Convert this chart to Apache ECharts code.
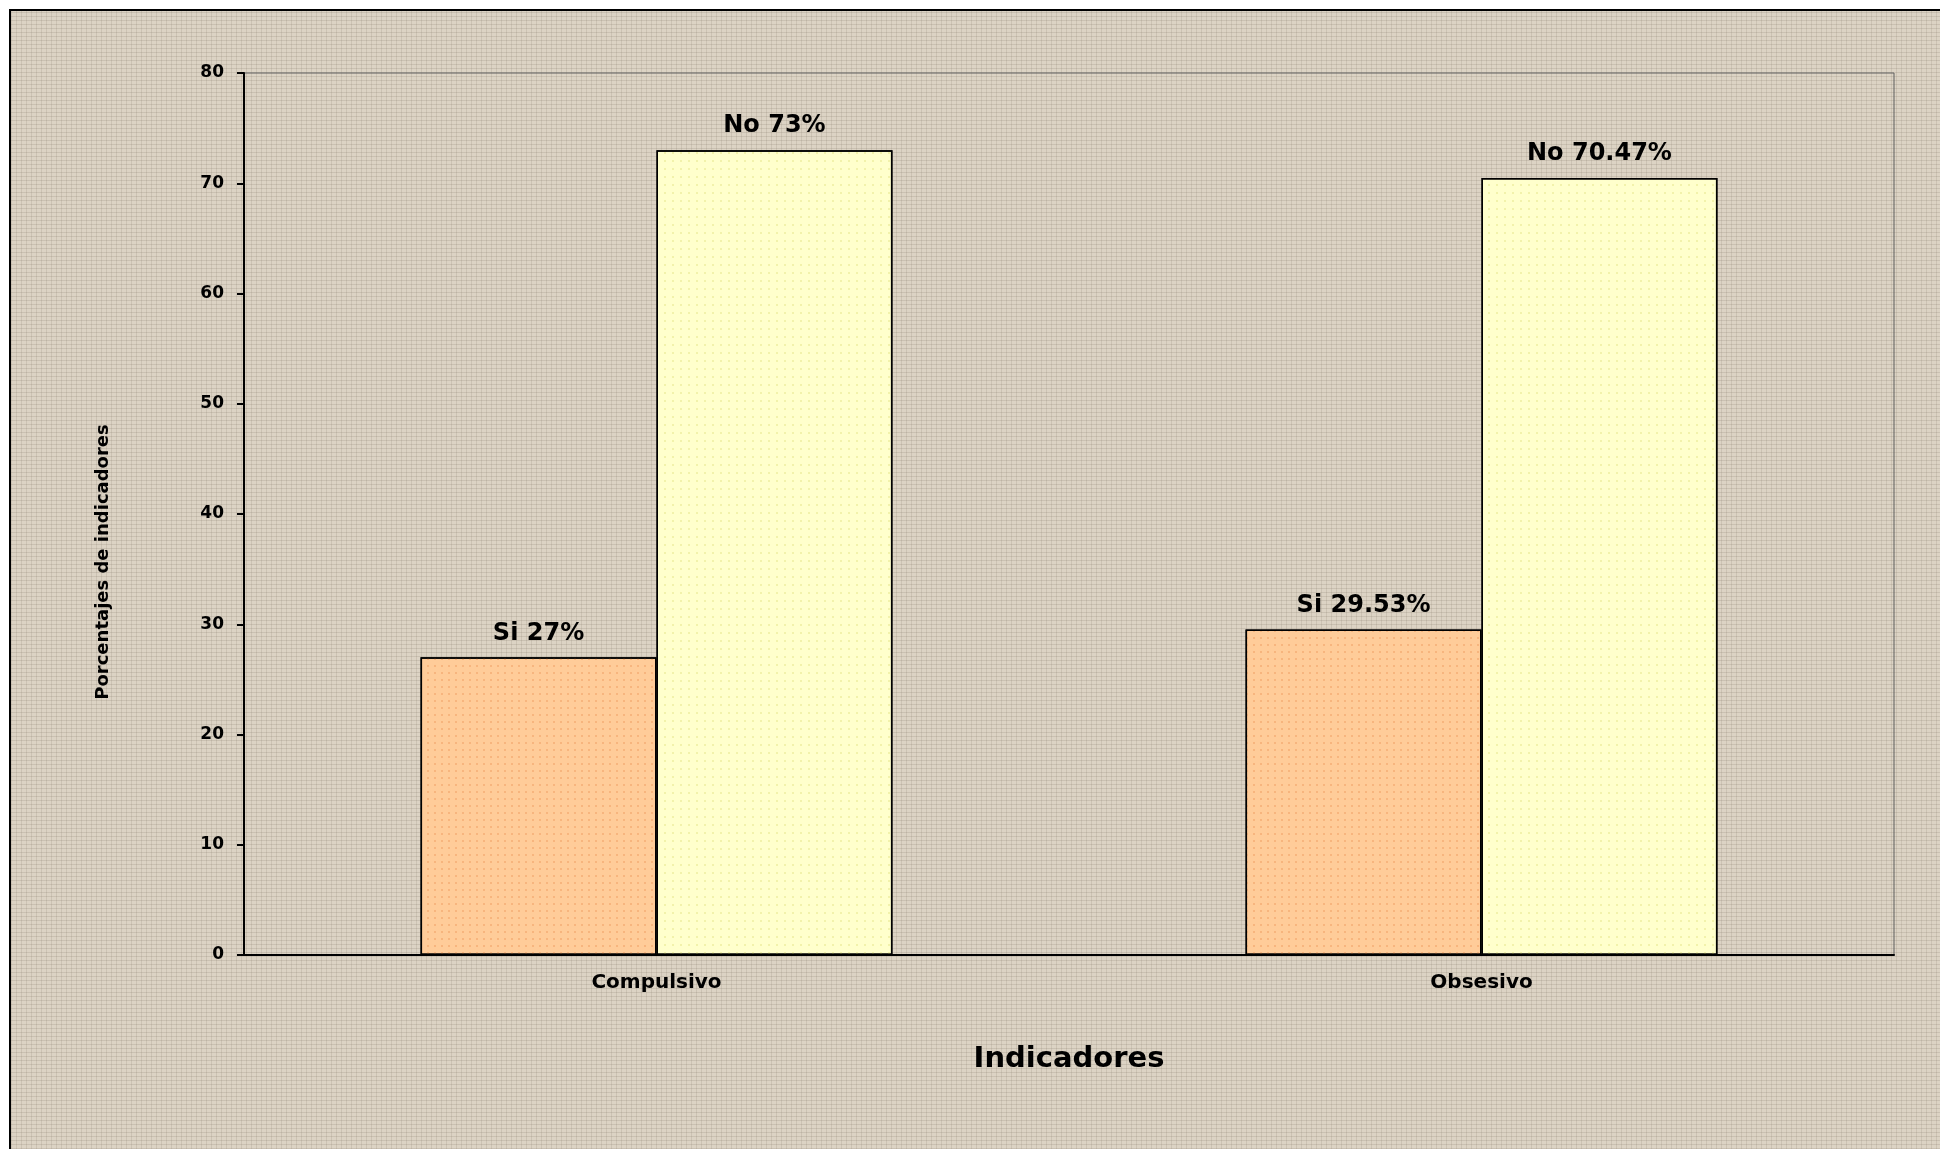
<!DOCTYPE html>
<html>
<head>
<meta charset="utf-8">
<title>Indicadores</title>
<script src="https://cdn.jsdelivr.net/npm/echarts@6/dist/echarts.min.js"></script>
<style>
  html, body {
    margin: 0;
    padding: 0;
    background: #ffffff;
    overflow: hidden;
  }
  /* marco negro y fondo tipo lino */
  .frame {
    position: absolute;
    left: 9px;
    top: 9px;
    width: 1960px;
    height: 1170px;
    border-left: 2px solid #000;
    border-top: 2px solid #000;
    background-color: #dcd3c4;
    background-image:
      repeating-linear-gradient(0deg, rgba(120, 108, 92, 0.18) 0 1px, transparent 1px 4px),
      repeating-linear-gradient(90deg, rgba(120, 108, 92, 0.16) 0 1px, transparent 1px 5px);
  }
  #chart {
    position: absolute;
    left: 0;
    top: 0;
    width: 1940px;
    height: 1149px;
  }
</style>
</head>
<body>
<div class="frame"></div>
<div id="chart"></div>

<script>
// datos del grafico
const categories = ['Compulsivo', 'Obsesivo'];
const siValues = [27, 29.53];
const noValues = [73, 70.47];
const yTicks = { min: 0, max: 80, interval: 10 };

const font = 'DejaVu Sans';

// etiqueta encima de cada barra: "Si 27%"
function barLabel(params) {
  return params.seriesName + ' ' + params.value + '%';
}

const chart = echarts.init(document.getElementById('chart'));

const option = {
  backgroundColor: 'transparent',
  animation: false,
  grid: {
    left: 244,
    right: 46,
    top: 73,
    bottom: 194,
    show: true,
    borderColor: '#5e5e5e',
    borderWidth: 1,
    backgroundColor: 'transparent'
  },
  xAxis: {
    type: 'category',
    data: categories,
    name: 'Indicadores',
    nameLocation: 'middle',
    nameGap: 90,
    nameTextStyle: {
      fontFamily: font,
      fontWeight: 'bold',
      fontSize: 29,
      color: '#000'
    },
    axisLine: { lineStyle: { color: '#000', width: 2 } },
    axisTick: { length: 7, lineStyle: { color: '#000', width: 2 } },
    axisLabel: {
      margin: 18,
      fontFamily: font,
      fontWeight: 'bold',
      fontSize: 20,
      color: '#000'
    }
  },
  yAxis: {
    type: 'value',
    min: yTicks.min,
    max: yTicks.max,
    interval: yTicks.interval,
    name: 'Porcentajes de indicadores',
    nameLocation: 'middle',
    nameRotate: 90,
    nameGap: 132,
    nameTextStyle: {
      fontFamily: font,
      fontWeight: 'bold',
      fontSize: 18,
      color: '#000',
      // baja el titulo un poco respecto al centro del eje
      padding: [0, 96, 0, 0]
    },
    axisLine: { show: true, lineStyle: { color: '#000', width: 2 } },
    axisTick: { show: true, length: 7, lineStyle: { color: '#000', width: 2 } },
    splitLine: { show: false },
    axisLabel: {
      margin: 20,
      fontFamily: font,
      fontWeight: 'bold',
      fontSize: 17,
      color: '#000'
    }
  },
  series: [
    {
      name: 'Si',
      type: 'bar',
      data: siValues,
      barWidth: '28.6%',
      barGap: '0%',
      itemStyle: {
        color: '#ffcc99',
        borderColor: '#000',
        borderWidth: 1.5,
        decal: {
          symbol: 'circle',
          symbolSize: 1,
          dashArrayX: [2, 5],
          dashArrayY: [2, 5],
          color: 'rgba(236, 150, 90, 0.55)'
        }
      },
      label: {
        show: true,
        position: 'top',
        distance: 12,
        formatter: barLabel,
        fontFamily: font,
        fontWeight: 'bold',
        fontSize: 24,
        color: '#000'
      }
    },
    {
      name: 'No',
      type: 'bar',
      data: noValues,
      barWidth: '28.6%',
      barGap: '0%',
      itemStyle: {
        color: '#ffffcc',
        borderColor: '#000',
        borderWidth: 1.5,
        decal: {
          symbol: 'circle',
          symbolSize: 1,
          dashArrayX: [2, 6],
          dashArrayY: [2, 6],
          color: 'rgba(225, 225, 130, 0.6)'
        }
      },
      label: {
        show: true,
        position: 'top',
        distance: 12,
        formatter: barLabel,
        fontFamily: font,
        fontWeight: 'bold',
        fontSize: 24,
        color: '#000'
      }
    }
  ]
};

chart.setOption(option);
</script>
</body>
</html>
